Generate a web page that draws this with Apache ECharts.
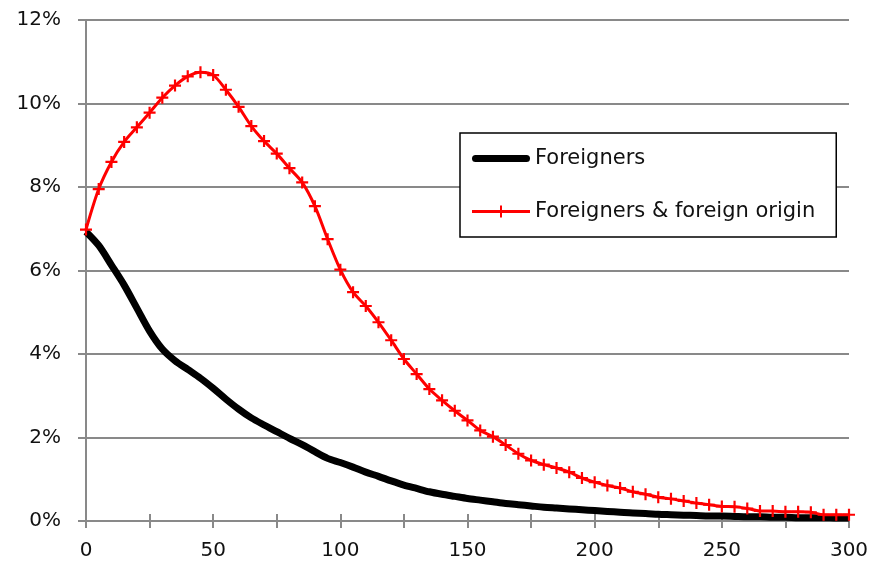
<!DOCTYPE html>
<html>
<head>
<meta charset="utf-8">
<script src="https://cdn.jsdelivr.net/npm/echarts@6/dist/echarts.min.js"></script>
<style>html,body{margin:0;padding:0;background:#fff}#c{width:875px;height:572px}</style>
</head>
<body>
<div id="c"></div>
<script>
var xValues = [0,5,10,15,20,25,30,35,40,45,50,55,60,65,70,75,80,85,90,95,100,105,110,115,120,125,130,135,140,145,150,155,160,165,170,175,180,185,190,195,200,205,210,215,220,225,230,235,240,245,250,255,260,265,270,275,280,285,290,295,300];
var foreigners = [6.93,6.6,6.13,5.65,5.1,4.55,4.12,3.84,3.63,3.42,3.18,2.92,2.68,2.47,2.3,2.14,1.98,1.83,1.66,1.5,1.4,1.29,1.17,1.07,0.96,0.86,0.78,0.7,0.64,0.59,0.54,0.5,0.46,0.42,0.39,0.36,0.33,0.31,0.29,0.27,0.25,0.23,0.21,0.19,0.18,0.16,0.15,0.14,0.13,0.12,0.12,0.11,0.1,0.1,0.09,0.09,0.08,0.08,0.08,0.07,0.07];
var foreignOrigin = [6.98,7.95,8.6,9.08,9.43,9.78,10.14,10.43,10.65,10.75,10.68,10.33,9.92,9.46,9.1,8.8,8.45,8.11,7.54,6.75,6.02,5.48,5.15,4.76,4.33,3.88,3.52,3.16,2.89,2.64,2.41,2.17,2.02,1.82,1.61,1.45,1.35,1.27,1.17,1.03,0.93,0.85,0.79,0.7,0.64,0.57,0.53,0.48,0.43,0.39,0.35,0.34,0.3,0.24,0.24,0.22,0.22,0.21,0.15,0.15,0.15];
var seriesNames = ['Foreigners', 'Foreigners & foreign origin'];
var yTicks = [0,2,4,6,8,10,12];

function pairs(ys){ return xValues.map(function(x,i){ return [x, ys[i]]; }); }

var FONT = '"DejaVu Sans", "Liberation Sans", sans-serif';
var plus = 'path://M4.5,0 H6.5 V4.5 H11 V6.5 H6.5 V11 H4.5 V6.5 H0 V4.5 H4.5 Z';
var blackIcon = 'path://M0,0 M58,14 M3.5,3.5 H54.5 A3.5,3.5 0 0 1 54.5,10.5 H3.5 A3.5,3.5 0 0 1 3.5,3.5 Z';
var redIcon = 'path://M0,0 M58,14 M0,5.5 H28 V1 H30 V5.5 H58 V8.5 H30 V13 H28 V8.5 H0 Z';
var gray = '#898989';

var chart = echarts.init(document.getElementById('c'));
chart.setOption({
  animation: false,
  backgroundColor: '#fff',
  grid: { left: 86, right: 26, top: 20, bottom: 51 },
  legend: {
    orient: 'vertical',
    left: 460, top: 133,
    padding: [15, 21, 15, 12],
    itemGap: 32,
    itemWidth: 58, itemHeight: 14,
    borderColor: '#000', borderWidth: 1.5,
    backgroundColor: '#fff',
    symbolKeepAspect: true,
    itemStyle: { borderWidth: 0 },
    textStyle: { fontFamily: FONT, fontSize: 21, color: '#111' },
    data: [
      { name: seriesNames[0], icon: blackIcon, itemStyle: { color: '#000', borderWidth: 0 } },
      { name: seriesNames[1], icon: redIcon, itemStyle: { color: '#ff0000', borderWidth: 0 } }
    ]
  },
  xAxis: [{
    type: 'value', min: 0, max: 300, interval: 25,
    axisLine: { show: true, lineStyle: { color: gray, width: 2 } },
    axisTick: { show: true, inside: false, length: 7, lineStyle: { color: gray, width: 2 } },
    splitLine: { show: false },
    axisLabel: {
      margin: 20, fontFamily: FONT, fontSize: 20, color: '#111',
      formatter: function(v){ return v % 50 === 0 ? String(v) : ''; }
    }
  }, {
    type: 'value', min: 0, max: 300, interval: 25, position: 'bottom',
    axisLine: { show: false },
    axisTick: { show: true, inside: true, length: 7, lineStyle: { color: gray, width: 2 } },
    splitLine: { show: false },
    axisLabel: { show: false }
  }],
  yAxis: {
    type: 'value', min: yTicks[0], max: yTicks[yTicks.length-1], interval: 2,
    axisLine: { show: true, lineStyle: { color: gray, width: 2 } },
    axisTick: { show: true, length: 8, lineStyle: { color: gray, width: 2 } },
    splitLine: { show: true, lineStyle: { color: gray, width: 2 } },
    axisLabel: { margin: 25, fontFamily: FONT, fontSize: 20, color: '#111', formatter: '{value}%' }
  },
  series: [{
    name: seriesNames[0], type: 'line', xAxisIndex: 0,
    data: pairs(foreigners), smooth: 0.3, showSymbol: false, symbol: 'none',
    lineStyle: { color: '#000', width: 7 },
    itemStyle: { color: '#000' },
    z: 3
  }, {
    name: seriesNames[1], type: 'line', xAxisIndex: 0,
    data: pairs(foreignOrigin), smooth: 0.3,
    symbol: plus, symbolSize: 12, showSymbol: true,
    lineStyle: { color: '#ff0000', width: 3 },
    itemStyle: { color: '#ff0000' },
    z: 4
  }]
});
</script>
</body>
</html>
